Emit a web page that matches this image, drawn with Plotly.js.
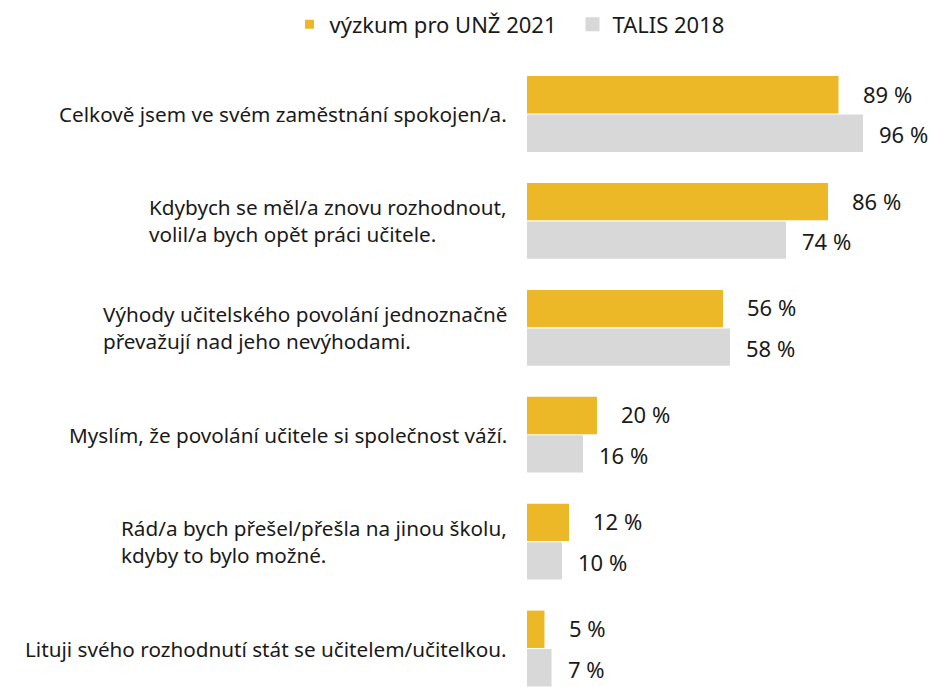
<!DOCTYPE html>
<html><head><meta charset="utf-8">
<script src="https://cdn.plot.ly/plotly-3.0.1.min.js"></script>
<style>html,body{margin:0;padding:0;background:#fff}</style>
</head><body>
<div id="chart" style="width:933px;height:687px"></div>
<script>
const categories = [
  "Celkově jsem ve svém zaměstnání spokojen/a.",
  "Kdybych se měl/a znovu rozhodnout,<br>volil/a bych opět práci učitele.",
  "Výhody učitelského povolání jednoznačně<br>převažují nad jeho nevýhodami.",
  "Myslím, že povolání učitele si společnost váží.",
  "Rád/a bych přešel/přešla na jinou školu,<br>kdyby to bylo možné.",
  "Lituji svého rozhodnutí stát se učitelem/učitelkou."
];
const seriesNames = ["výzkum pro UNŽ 2021", "TALIS 2018"];
const unz2021 = [89, 86, 56, 20, 12, 5];
const talis2018 = [96, 74, 58, 16, 10, 7];

const FONT = "Noto Sans, sans-serif";
const TXT = "#1a1a1a";
const colors = ["#ECB828", "#D8D8D8"];
const catIdx = categories.map((c, i) => i);

const traces = [
  {type: "bar", orientation: "h", name: seriesNames[0], y: catIdx, x: unz2021,
   marker: {color: colors[0]}, hoverinfo: "x", showlegend: false},
  {type: "bar", orientation: "h", name: seriesNames[1], y: catIdx, x: talis2018,
   marker: {color: colors[1]}, hoverinfo: "x", showlegend: false},
  {type: "scatter", mode: "markers", name: seriesNames[0], x: [null], y: [null],
   marker: {symbol: "square", size: 9, color: colors[0]}, showlegend: true},
  {type: "scatter", mode: "markers", name: seriesNames[1], x: [null], y: [null],
   marker: {symbol: "square", size: 14, color: colors[1]}, showlegend: true}
];

const annotations = [];
categories.forEach((c, i) => {
  annotations.push({xref: "paper", yref: "y", x: 0, y: i, text: c, showarrow: false,
    xanchor: "right", yanchor: "middle", align: "left", xshift: -18,
    font: {family: FONT, size: 20.7, color: TXT}});
});
const off = 0.19;
unz2021.forEach((v, i) => {
  annotations.push({xref: "x", yref: "y", x: v, y: i - off, text: v + " %", showarrow: false,
    xanchor: "left", yanchor: "middle", xshift: 22,
    font: {family: FONT, size: 22, color: TXT}});
});
talis2018.forEach((v, i) => {
  annotations.push({xref: "x", yref: "y", x: v, y: i + off, text: v + " %", showarrow: false,
    xanchor: "left", yanchor: "middle", xshift: 14,
    font: {family: FONT, size: 22, color: TXT}});
});

const layout = {
  width: 933, height: 687,
  margin: {l: 527, r: 0, t: 60, b: 0, pad: 0},
  paper_bgcolor: "#fff", plot_bgcolor: "#fff",
  barmode: "group", bargap: 0.28, bargroupgap: 0.03,
  showlegend: true,
  legend: {orientation: "h", x: -0.585, xanchor: "left", y: 1.09, yanchor: "top",
    font: {family: FONT, size: 22, color: TXT}, traceorder: "normal",
    itemsizing: "trace", entrywidth: 238, entrywidthmode: "pixels"},
  xaxis: {range: [0, 116], visible: false, fixedrange: true},
  yaxis: {range: [5.36, -0.505], visible: false, fixedrange: true},
  annotations: annotations,
  font: {family: FONT, color: TXT}
};

Plotly.newPlot("chart", traces, layout, {displayModeBar: false, staticPlot: true});
</script>
</body></html>
